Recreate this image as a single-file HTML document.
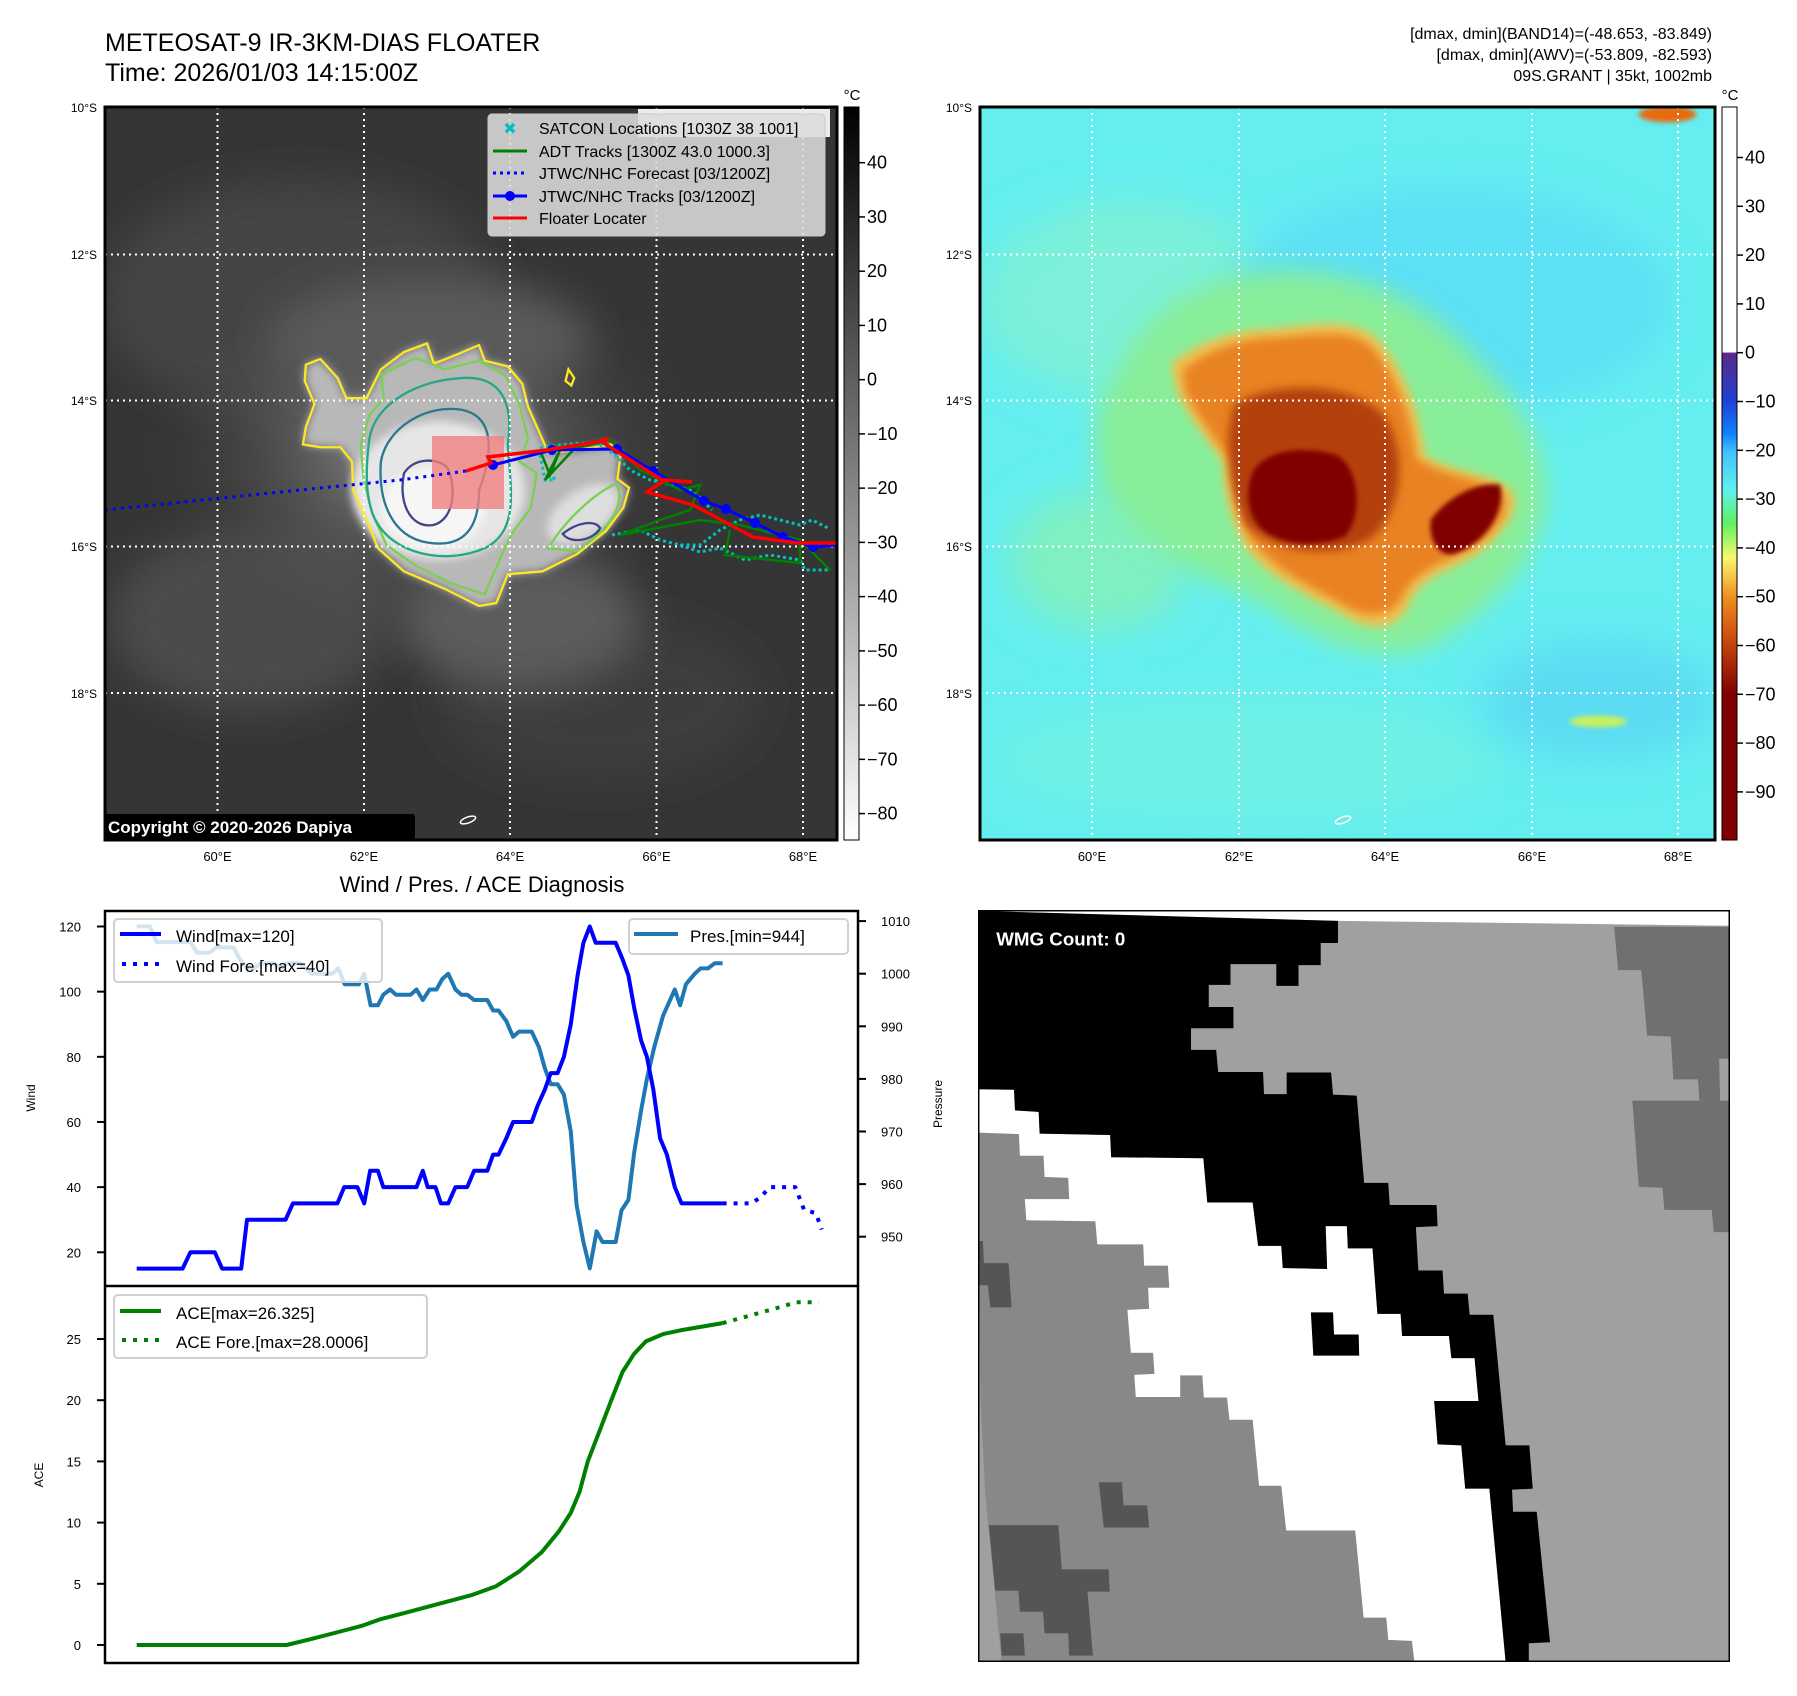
<!DOCTYPE html>
<html><head><meta charset="utf-8">
<style>
html,body{margin:0;padding:0;background:#fff;}
svg{display:block;font-family:"Liberation Sans","DejaVu Sans",sans-serif;}
</style></head>
<body>
<svg id="root" width="1797" height="1696" viewBox="0 0 1797 1696" xmlns="http://www.w3.org/2000/svg">
<defs>
  <clipPath id="clipL"><rect x="105" y="107" width="732" height="733"/></clipPath>
  <clipPath id="clipR"><rect x="980" y="107" width="735" height="733"/></clipPath>
  <filter id="blur8" x="-50%" y="-50%" width="200%" height="200%"><feGaussianBlur stdDeviation="8"/></filter>
  <filter id="blur20" x="-50%" y="-50%" width="200%" height="200%"><feGaussianBlur stdDeviation="20"/></filter>
  <filter id="blur4" x="-50%" y="-50%" width="200%" height="200%"><feGaussianBlur stdDeviation="4"/></filter>
  <radialGradient id="cloudHalo" cx="50%" cy="50%" r="50%">
    <stop offset="0" stop-color="#9a9a9a"/><stop offset="1" stop-color="#3a3a3a" stop-opacity="0"/>
  </radialGradient>
  <linearGradient id="cbGray" x1="0" y1="0" x2="0" y2="1">
    <stop offset="0" stop-color="#000"/><stop offset="1" stop-color="#fff"/>
  </linearGradient>
  <linearGradient id="cbColor" x1="0" y1="0" x2="0" y2="1">
    <stop offset="0" stop-color="#fff"/><stop offset="0.334" stop-color="#fff"/>
    <stop offset="0.336" stop-color="#5a2a8a"/><stop offset="0.40" stop-color="#2040d0"/>
    <stop offset="0.445" stop-color="#1080ff"/><stop offset="0.47" stop-color="#40c0ff"/>
    <stop offset="0.522" stop-color="#60f0f0"/><stop offset="0.568" stop-color="#60f060"/>
    <stop offset="0.615" stop-color="#f8f870"/><stop offset="0.668" stop-color="#f09020"/>
    <stop offset="0.721" stop-color="#d05010"/><stop offset="0.80" stop-color="#800000"/>
    <stop offset="1" stop-color="#800000"/>
  </linearGradient>
</defs>

<!-- ===== Titles ===== -->
<text x="105" y="51" font-size="25" fill="#000">METEOSAT-9 IR-3KM-DIAS FLOATER</text>
<text x="105" y="81" font-size="25" fill="#000">Time: 2026/01/03 14:15:00Z</text>
<g font-size="16" text-anchor="end" fill="#000">
  <text x="1712" y="39">[dmax, dmin](BAND14)=(-48.653, -83.849)</text>
  <text x="1712" y="60">[dmax, dmin](AWV)=(-53.809, -82.593)</text>
  <text x="1712" y="81">09S.GRANT | 35kt, 1002mb</text>
</g>

<!-- ===== Left IR map ===== -->
<g>
  <g clip-path="url(#clipL)">
    <rect x="105" y="107" width="732" height="733" fill="#353535"/>
    <ellipse cx="300" cy="300" rx="200" ry="120" fill="#444" filter="url(#blur20)"/>
    <ellipse cx="250" cy="620" rx="140" ry="90" fill="#4c4c4c" filter="url(#blur20)"/>
    <ellipse cx="600" cy="700" rx="160" ry="80" fill="#3e3e3e" filter="url(#blur20)"/>
    <ellipse cx="420" cy="450" rx="280" ry="210" fill="url(#cloudHalo)"/>
    <ellipse cx="430" cy="340" rx="160" ry="60" fill="#5a5a5a" filter="url(#blur20)"/>
    <ellipse cx="520" cy="620" rx="120" ry="70" fill="#5c5c5c" filter="url(#blur20)"/>
    <g transform="scale(0.5771)">
      <path d="M530,632 L555,622 L585,655 L600,690 L635,690 L660,640 L700,610 L740,595 L752,630 L790,615 L830,598 L840,625 L880,635 L905,665 L915,705 L935,750 L950,785 L1000,780 L1060,770 L1075,790 L1070,830 L1090,845 L1080,880 L1050,920 L1000,960 L940,990 L880,995 L860,1045 L830,1050 L770,1020 L700,990 L655,950 L635,900 L612,850 L610,800 L590,775 L555,775 L525,770 L530,740 L545,700 L528,660 Z" fill="#b8b8b8" filter="url(#blur8)"/>
      <ellipse cx="760" cy="850" rx="150" ry="120" fill="#e6e6e6" filter="url(#blur8)"/>
      <ellipse cx="1010" cy="890" rx="70" ry="40" fill="#dedede" filter="url(#blur8)" transform="rotate(-35 1010 890)"/>
      <ellipse cx="750" cy="880" rx="90" ry="70" fill="#f6f6f6" filter="url(#blur8)"/>
      <g fill="none" stroke-width="4">
        <path d="M530,632 L555,622 L585,655 L600,690 L635,690 L660,640 L700,610 L740,595 L752,630 L790,615 L830,598 L840,625 L880,635 L905,665 L915,705 L935,750 L950,785 L1000,780 L1060,770 L1075,790 L1070,830 L1090,845 L1080,880 L1050,920 L1000,960 L940,990 L880,995 L860,1045 L830,1050 L770,1020 L700,990 L655,950 L635,900 L612,850 L610,800 L590,775 L555,775 L525,770 L530,740 L545,700 L528,660 Z" stroke="#fde725"/>
        <path d="M985,640 L995,655 L990,668 L980,660 Z" stroke="#fde725"/>
        <path d="M660,650 L720,620 L770,640 L830,625 L875,650 L900,700 L915,760 L900,800 L930,820 L920,880 L890,920 L870,960 L840,1030 L780,1010 L720,980 L670,945 L645,890 L630,830 L625,770 L640,720 L665,690 Z" stroke="#7ad151"/>
        <path d="M950,950 C980,900 1030,855 1068,838 C1085,870 1060,915 1000,955 Z" stroke="#7ad151"/>
        <path d="M640,760 C650,700 720,660 800,655 C870,650 890,700 880,770 C885,850 900,920 840,950 C770,980 680,960 650,900 C630,860 635,800 640,760Z" stroke="#22a884"/>
        <path d="M660,800 C670,740 740,700 800,710 C850,720 860,770 830,850 C830,920 800,950 740,940 C680,930 655,870 660,800Z" stroke="#2a788e"/>
        <path d="M700,820 C720,790 760,795 775,810 C790,840 790,900 750,910 C710,915 690,870 700,820Z" stroke="#414487"/>
        <path d="M975,925 C1000,905 1030,900 1040,915 C1030,935 990,945 975,925Z" stroke="#414487"/>
      </g>
    </g>
    <g stroke="#fff" stroke-width="2" stroke-dasharray="2,4">
      <line x1="217.5" y1="107" x2="217.5" y2="840"/><line x1="364" y1="107" x2="364" y2="840"/>
      <line x1="510" y1="107" x2="510" y2="840"/><line x1="656.5" y1="107" x2="656.5" y2="840"/>
      <line x1="803" y1="107" x2="803" y2="840"/>
      <line x1="105" y1="254.5" x2="837" y2="254.5"/><line x1="105" y1="400.5" x2="837" y2="400.5"/>
      <line x1="105" y1="546.5" x2="837" y2="546.5"/><line x1="105" y1="693" x2="837" y2="693"/>
    </g>
    <rect x="432" y="436" width="72" height="73" fill="#f08080" opacity="0.8"/>
    <polyline points="105,510 300,490 400,480 466,471" fill="none" stroke="#0000ff" stroke-width="3" stroke-dasharray="3,5"/>
    <g fill="none" stroke="#00c0c0" stroke-width="3" stroke-dasharray="3,3">
      <polyline points="540,448 560,445 580,443 600,445 615,455 630,470 650,480 672,485 690,490 700,498 712,510"/>
      <polyline points="612,535 640,530 660,540 680,545 700,545 720,530 740,520 760,515 780,520 800,525 812,520 828,528"/>
      <polyline points="680,545 700,552 720,548 745,560 770,555 800,560 805,570 830,570"/>
      <polyline points="540,455 545,480 555,480 550,470"/>
    </g>
    <g fill="none" stroke="#008000" stroke-width="2.5">
      <polyline points="540,450 550,475 560,450 545,480 575,448 610,440 640,470 680,490 700,485 690,510 660,520 620,535 700,520 740,525 800,540 830,570"/>
      <polyline points="730,530 725,555 800,563 800,540"/>
    </g>
    <g>
      <polyline points="493,465 552,450 617,449 653,471 704,501 726,509 755,523 783,537 813,547 837,545" fill="none" stroke="#0000ff" stroke-width="3"/>
      <g fill="#0000ff"><circle cx="493" cy="465" r="5"/><circle cx="552" cy="450" r="5"/><circle cx="617" cy="449" r="5"/><circle cx="653" cy="471" r="5"/><circle cx="704" cy="501" r="5"/><circle cx="726" cy="509" r="5"/><circle cx="755" cy="523" r="5"/><circle cx="783" cy="537" r="5"/><circle cx="813" cy="547" r="5"/></g>
    </g>
    <polyline points="466,471 491,463 488,457 547,450 597,442 609,438 602,442 662,480 692,482 665,480 647,492 693,505 727,523 753,537 797,543 837,543" fill="none" stroke="#ff0000" stroke-width="3.5"/>
    <ellipse cx="468" cy="820" rx="8" ry="3" fill="none" stroke="#fff" stroke-width="1.5" transform="rotate(-20 468 820)"/>
    <rect x="638" y="109" width="192" height="28" fill="#fff" opacity="0.9"/>
    <text x="734" y="130" font-size="17" font-weight="bold" fill="#e0e0e0" text-anchor="middle">© EUMETSAT 2026</text>
  </g>
  <rect x="105" y="107" width="732" height="733" fill="none" stroke="#000" stroke-width="3"/>
  <g>
    <rect x="488" y="114" width="337" height="122" rx="4" fill="#dcdcdc" fill-opacity="0.88" stroke="#c8c8c8"/>
    <g font-size="16" fill="#000">
      <text x="539" y="134">SATCON Locations [1030Z 38 1001]</text>
      <text x="539" y="157">ADT Tracks [1300Z 43.0 1000.3]</text>
      <text x="539" y="179">JTWC/NHC Forecast [03/1200Z]</text>
      <text x="539" y="202">JTWC/NHC Tracks [03/1200Z]</text>
      <text x="539" y="224">Floater Locater</text>
    </g>
    <text x="510" y="134" font-size="16" font-weight="bold" fill="#00c0c0" text-anchor="middle">✖</text>
    <line x1="493" y1="151" x2="527" y2="151" stroke="#008000" stroke-width="3"/>
    <line x1="493" y1="173" x2="527" y2="173" stroke="#0000ff" stroke-width="3" stroke-dasharray="3,4"/>
    <line x1="493" y1="196" x2="527" y2="196" stroke="#0000ff" stroke-width="3"/><circle cx="510" cy="196" r="5" fill="#0000ff"/>
    <line x1="493" y1="218" x2="527" y2="218" stroke="#ff0000" stroke-width="3"/>
  </g>
  <rect x="104" y="814" width="311" height="26" rx="3" fill="#000"/>
  <text x="108" y="833" font-size="17" font-weight="bold" fill="#fff">Copyright © 2020-2026 Dapiya</text>
  <g font-size="12" text-anchor="end" fill="#000">
    <text x="97" y="112">10°S</text><text x="97" y="259">12°S</text><text x="97" y="405">14°S</text><text x="97" y="551">16°S</text><text x="97" y="698">18°S</text>
  </g>
  <g font-size="13" text-anchor="middle" fill="#000">
    <text x="217.5" y="861">60°E</text><text x="364" y="861">62°E</text><text x="510" y="861">64°E</text><text x="656.5" y="861">66°E</text><text x="803" y="861">68°E</text>
  </g>
  <g>
    <rect x="844" y="107" width="15" height="733" fill="url(#cbGray)" stroke="#000" stroke-width="1"/>
    <text x="852" y="100" font-size="15" text-anchor="middle">°C</text>
    <g font-size="18" fill="#000" id="cbLticks"></g>
  </g>
</g>

<!-- ===== Right colour map ===== -->
<g>
  <g clip-path="url(#clipR)">
    <rect x="980" y="107" width="735" height="733" fill="#64eef0"/>
    <ellipse cx="1130" cy="300" rx="150" ry="100" fill="#7cf0d8" filter="url(#blur20)"/>
    <ellipse cx="1450" cy="300" rx="220" ry="110" fill="#5ce0f4" filter="url(#blur20)"/>
    <ellipse cx="1250" cy="760" rx="250" ry="60" fill="#70f0e4" filter="url(#blur20)"/>
    <ellipse cx="1600" cy="700" rx="120" ry="60" fill="#5cdcf2" filter="url(#blur20)"/>
    <ellipse cx="1100" cy="560" rx="90" ry="70" fill="#80f0c0" filter="url(#blur20)"/>
    <g transform="translate(900,0) scale(0.5771)">
      <path d="M380,640 C430,520 560,460 700,470 C820,480 900,520 980,600 C1060,680 1120,760 1120,860 C1110,980 1020,1060 920,1120 C820,1160 700,1100 620,1040 C500,1000 350,900 340,800 C330,720 350,680 380,640Z" fill="#88ee9a" filter="url(#blur20)"/>
      <path d="M470,630 C520,590 580,570 650,570 C720,560 790,550 830,590 C880,650 900,720 910,790 C960,820 1030,820 1060,850 C1080,880 1040,930 1000,960 C950,990 900,1000 880,1050 C860,1100 800,1090 760,1060 C700,1030 640,1000 600,950 C570,900 560,840 560,800 C530,760 500,720 480,680 Z" fill="#f0c050" filter="url(#blur8)"/>
      <path d="M490,640 C540,605 590,585 660,585 C730,578 790,570 820,605 C865,660 885,725 895,795 C950,830 1020,830 1045,858 C1060,885 1030,925 990,950 C940,975 890,990 870,1035 C850,1075 800,1070 765,1045 C705,1015 650,985 612,940 C585,895 575,835 575,800 C545,760 515,720 495,680 Z" fill="#e98222" filter="url(#blur8)"/>
      <path d="M580,700 C650,660 780,660 840,720 C880,790 870,880 820,930 C760,970 650,960 600,910 C570,850 560,760 580,700Z" fill="#b3400a" filter="url(#blur8)"/>
      <path d="M610,820 C630,780 700,770 760,790 C800,820 800,900 770,930 C720,950 650,945 620,910 C600,880 600,850 610,820 Z" fill="#800000" filter="url(#blur4)"/>
      <path d="M920,900 C950,860 1000,835 1040,840 C1050,880 1020,940 960,960 C930,965 915,930 920,900Z" fill="#800000" filter="url(#blur4)"/>
      <ellipse cx="1330" cy="198" rx="50" ry="14" fill="#e86a10" filter="url(#blur4)"/>
      <ellipse cx="1210" cy="1250" rx="50" ry="10" fill="#c8f060" filter="url(#blur4)"/>
    </g>
    <g stroke="#fff" stroke-width="2" stroke-dasharray="2,4">
      <line x1="1092" y1="107" x2="1092" y2="840"/><line x1="1239" y1="107" x2="1239" y2="840"/>
      <line x1="1385" y1="107" x2="1385" y2="840"/><line x1="1532" y1="107" x2="1532" y2="840"/>
      <line x1="1678" y1="107" x2="1678" y2="840"/>
      <line x1="980" y1="254.5" x2="1715" y2="254.5"/><line x1="980" y1="400.5" x2="1715" y2="400.5"/>
      <line x1="980" y1="546.5" x2="1715" y2="546.5"/><line x1="980" y1="693" x2="1715" y2="693"/>
    </g>
    <ellipse cx="1343" cy="820" rx="8" ry="3" fill="none" stroke="#fff" stroke-width="1.5" transform="rotate(-20 1343 820)"/>
  </g>
  <rect x="980" y="107" width="735" height="733" fill="none" stroke="#000" stroke-width="3"/>
  <g font-size="12" text-anchor="end" fill="#000">
    <text x="972" y="112">10°S</text><text x="972" y="259">12°S</text><text x="972" y="405">14°S</text><text x="972" y="551">16°S</text><text x="972" y="698">18°S</text>
  </g>
  <g font-size="13" text-anchor="middle" fill="#000">
    <text x="1092" y="861">60°E</text><text x="1239" y="861">62°E</text><text x="1385" y="861">64°E</text><text x="1532" y="861">66°E</text><text x="1678" y="861">68°E</text>
  </g>
  <g>
    <rect x="1722" y="107" width="15" height="733" fill="url(#cbColor)" stroke="#000" stroke-width="1"/>
    <text x="1730" y="100" font-size="15" text-anchor="middle">°C</text>
    <g font-size="18" fill="#000" id="cbRticks"></g>
  </g>
</g>

<!-- ===== Diagnosis chart ===== -->
<text x="482" y="892" font-size="22" text-anchor="middle" fill="#000">Wind / Pres. / ACE Diagnosis</text>
<g id="diag">
  <rect x="105" y="911" width="753" height="752" fill="#fff" stroke="none"/>
  <g id="series"></g>
  <rect x="105" y="911" width="753" height="752" fill="none" stroke="#000" stroke-width="2.5"/>
  <line x1="105" y1="1286" x2="858" y2="1286" stroke="#000" stroke-width="2.5"/>
  <g id="axes" font-size="13" fill="#000"></g>
  <text transform="translate(35,1098) rotate(-90)" font-size="12" text-anchor="middle">Wind</text>
  <text transform="translate(942,1104) rotate(-90)" font-size="12" text-anchor="middle">Pressure</text>
  <text transform="translate(43,1475) rotate(-90)" font-size="12" text-anchor="middle">ACE</text>
  <g>
    <rect x="114" y="919" width="268" height="63" rx="4" fill="#fff" fill-opacity="0.8" stroke="#d0d0d0" stroke-width="2"/>
    <line x1="120" y1="934" x2="161" y2="934" stroke="#0000ff" stroke-width="4"/>
    <line x1="122" y1="964" x2="161" y2="964" stroke="#0000ff" stroke-width="4" stroke-dasharray="4,7"/>
    <text x="176" y="942" font-size="17">Wind[max=120]</text>
    <text x="176" y="972" font-size="17">Wind Fore.[max=40]</text>
  </g>
  <g>
    <rect x="629" y="919" width="219" height="35" rx="4" fill="#fff" fill-opacity="0.8" stroke="#d0d0d0" stroke-width="2"/>
    <line x1="634" y1="934" x2="678" y2="934" stroke="#1f77b4" stroke-width="4"/>
    <text x="690" y="942" font-size="17">Pres.[min=944]</text>
  </g>
  <g>
    <rect x="114" y="1295" width="313" height="63" rx="4" fill="#fff" fill-opacity="0.8" stroke="#d0d0d0" stroke-width="2"/>
    <line x1="120" y1="1311" x2="161" y2="1311" stroke="#008000" stroke-width="4"/>
    <line x1="122" y1="1340" x2="161" y2="1340" stroke="#008000" stroke-width="4" stroke-dasharray="4,7"/>
    <text x="176" y="1319" font-size="17">ACE[max=26.325]</text>
    <text x="176" y="1348" font-size="17">ACE Fore.[max=28.0006]</text>
  </g>
</g>

<!-- ===== WMG panel ===== -->
<g>
  <svg x="978" y="910" width="752" height="752" viewBox="0 8 1525 1527" preserveAspectRatio="none">
    <rect x="0" y="0" width="1545" height="1545" fill="#fff"/>
    <polygon points="0,10 730,30 1525,40 1525,1535 0,1535" fill="#a0a0a0"/>
    <polygon points="1290,42 1525,42 1525,310 1503,310 1505,395 1463,395 1460,352 1410,352 1405,265 1357,263 1345,130 1298,130" fill="#707070"/>
    <polygon points="1327,395 1525,395 1523,662 1492,662 1488,617 1392,617 1388,572 1340,570" fill="#707070"/>
    <polygon points="0,460 83,463 85,507 133,507 135,550 183,552 185,595 95,595 98,638 238,640 242,687 335,687 337,730 385,730 388,775 345,775 347,818 303,820 310,907 355,907 358,950 317,952 320,997 410,997 410,953 455,953 458,998 505,998 510,1043 557,1043 570,1177 615,1177 625,1268 765,1268 782,1445 828,1445 832,1490 880,1492 885,1535 48,1535 15,1200 5,1000" fill="#888"/>
    <polygon points="0,372 73,373 75,415 123,418 125,462 268,465 270,510 457,512 465,602 557,602 568,690 615,690 618,735 708,737 705,650 748,650 750,695 800,695 810,828 857,828 860,873 955,873 960,918 1007,918 1015,1005 925,1005 932,1093 980,1095 988,1183 1037,1183 1070,1535 885,1535 880,1492 832,1490 828,1445 782,1445 765,1268 625,1268 615,1177 570,1177 557,1043 510,1043 505,998 458,998 455,953 410,953 410,997 320,997 317,952 358,950 355,907 310,907 303,820 347,818 345,775 388,775 385,730 337,730 335,687 242,687 238,640 98,638 95,595 185,595 183,552 135,550 133,507 85,507 83,463 0,460" fill="#fff"/>
    <polygon points="0,10 730,30 730,75 695,75 695,120 650,120 650,162 605,162 605,118 512,118 512,160 468,160 468,205 518,205 518,248 432,248 432,292 483,292 487,337 578,337 580,382 626,382 626,338 716,338 720,383 768,385 783,562 832,562 835,607 930,607 932,650 888,652 893,740 942,740 945,787 993,787 997,830 1045,830 1070,1095 1118,1095 1125,1183 1083,1185 1085,1230 1133,1230 1160,1495 1117,1497 1117,1535 1070,1535 1037,1183 988,1183 980,1095 932,1093 925,1005 1015,1005 1007,918 960,918 955,873 860,873 857,828 810,828 800,695 750,695 748,650 705,650 708,737 618,735 615,690 568,690 557,602 465,602 457,512 270,510 268,465 125,462 123,418 75,415 73,373 0,372" fill="#000"/>
    <polygon points="675,825 720,825 722,870 772,870 773,913 680,913" fill="#000"/>
    <polygon points="0,680 10,680 12,725 62,725 68,815 25,815 20,770 0,770" fill="#555"/>
    <polygon points="245,1170 292,1170 295,1217 343,1217 347,1262 255,1262" fill="#555"/>
    <polygon points="22,1257 163,1257 170,1347 265,1347 267,1392 222,1392 233,1522 185,1522 183,1477 135,1477 132,1433 85,1433 82,1390 35,1390" fill="#555"/>
    <polygon points="45,1477 92,1477 95,1522 48,1522" fill="#555"/>
    <rect x="0" y="8" width="1525" height="1527" fill="none" stroke="#000" stroke-width="6"/>
    <text x="37" y="80" font-size="38" font-weight="bold" fill="#fff">WMG Count: 0</text>
  </svg>
</g>

<script>
// ---- Diagnosis chart data (time in hours) ----
const windHours = [0,9.4,11,16,17.5,21.4,22.6,30.5,32,41.1,42.5,45.2,46.6,47.8,49.4,50.5,57.3,58.6,59.6,61.2,62.3,63.8,65.3,67.7,69.1,71.8,73,74.1,75.7,77.1,80.9,82.1,83.6,84.8,86.2,87.5,88.9,90.3,91.5,92.8,94,98.1,99.5,100.7,101.9,103.3,104.5,105.8,107.2,108.6,110.2,111.6,120];
const windValues = [15,15,20,20,15,15,30,30,35,35,40,40,35,45,45,40,40,45,40,40,35,35,40,40,45,45,50,50,55,60,60,65,70,75,75,80,90,105,115,120,115,115,110,105,95,85,80,70,55,50,40,35,35];
const windForeHours = [120,125.9,127.9,129.6,134.9,136.7,139.1,140.3];
const windForeValues = [35,35,37,40,40,33,32,27];
const presHours = [0,2.7,4.1,11,12.4,14.9,16.3,19.8,21,22.6,24,25.4,28.1,29.5,30.7,33.4,35.8,40.1,41.3,42.6,45.5,46.6,47.9,49.4,50.5,51.9,53.1,56.1,57.3,58.6,60,61.4,62.6,63.8,65.3,66.5,67.7,69.1,71.8,73,74.1,75.7,77.1,78.3,80.9,82.4,83.6,84.8,86.2,87.5,88.9,90.1,91.5,92.8,94.2,95.4,98.1,99.3,100.7,101.9,103.3,104.5,106,107.8,110.2,111.3,112.5,114.3,115.5,117,118.4,120];
const presValues = [1009,1009,1006,1006,1004,1004,1005,1005,1003,1001,1001,1002,1002,1001,1002,1002,1000,1000,1001,998,998,1000,994,994,996,997,996,996,997,995,997,997,999,1000,997,996,996,995,995,993,993,991,988,989,989,986,982,979,979,977,970,956,949,944,951,949,949,955,957,966,974,980,986,992,997,994,998,1000,1001,1001,1002,1002];
const aceHours = [0,30.7,35.8,41.7,46.4,49.9,54.7,59.4,64.1,68.8,73.6,78.3,83,86.5,88.9,90.7,92.4,94.8,97.2,99.5,101.9,104.3,107.8,111.3,120];
const aceValues = [0,0,0.5,1.1,1.6,2.1,2.6,3.1,3.6,4.1,4.8,6.0,7.6,9.3,10.8,12.5,15,17.5,20,22.3,23.8,24.8,25.4,25.7,26.3];
const aceForeHours = [120,125.5,132.6,134.9,139.7];
const aceForeValues = [26.3,26.9,27.7,28.0,28.0];
const windTicks = [20,40,60,80,100,120];
const presTicks = [950,960,970,980,990,1000,1010];
const aceTicks = [0,5,10,15,20,25];
const irCbTicks = [40,30,20,10,0,-10,-20,-30,-40,-50,-60,-70,-80];
const colorCbTicks = [40,30,20,10,0,-10,-20,-30,-40,-50,-60,-70,-80,-90];

const NS = 'http://www.w3.org/2000/svg';
const xScale = h => 136.7 + h * (722.6 - 136.7) / 120;
const yWind = v => 1252.3 - (v - 20) * 3.258;
const yPres = p => 1236.7 - (p - 950) * 5.26;
const yAce = a => 1645 - a * 12.24;
const yIrCb = v => 162.7 + (40 - v) * 5.424;
const yColorCb = v => 157.5 + (40 - v) * 4.88;

function mk(tag, attrs, parent) {
  const el = document.createElementNS(NS, tag);
  for (const k in attrs) el.setAttribute(k, attrs[k]);
  parent.appendChild(el);
  return el;
}
const series = document.getElementById('series');
const axes = document.getElementById('axes');

function line(xs, ys, ysc, color, dash, name) {
  const pts = xs.map((h, i) => xScale(h).toFixed(1) + ',' + ysc(ys[i]).toFixed(1)).join(' ');
  const el = mk('polyline', {points: pts, fill: 'none', stroke: color, 'stroke-width': 4, 'stroke-linejoin': 'round'}, series);
  if (dash) el.setAttribute('stroke-dasharray', dash);
  
  
}
line(presHours, presValues, yPres, '#1f77b4', null, 'pressure-line');
line(windHours, windValues, yWind, '#0000ff', null, 'wind-line');
line(windForeHours, windForeValues, yWind, '#0000ff', '4,7', 'wind-forecast-line');
line(aceHours, aceValues, yAce, '#008000', null, 'ace-line');
line(aceForeHours, aceForeValues, yAce, '#008000', '4,7', 'ace-forecast-line');

windTicks.forEach(v => {
  const y = yWind(v);
  mk('line', {x1: 97, y1: y, x2: 105, y2: y, stroke: '#000', 'stroke-width': 2}, axes);
  const t = mk('text', {x: 81, y: y + 5, 'text-anchor': 'end'}, axes);
  t.textContent = v;
  
  
});
presTicks.forEach(v => {
  const y = yPres(v);
  mk('line', {x1: 858, y1: y, x2: 866, y2: y, stroke: '#000', 'stroke-width': 2}, axes);
  const t = mk('text', {x: 881, y: y + 5}, axes);
  t.textContent = v;
  
  
});
aceTicks.forEach(v => {
  const y = yAce(v);
  mk('line', {x1: 97, y1: y, x2: 105, y2: y, stroke: '#000', 'stroke-width': 2}, axes);
  const t = mk('text', {x: 81, y: y + 5, 'text-anchor': 'end'}, axes);
  t.textContent = v;
  
  
});
const cbL = document.getElementById('cbLticks');
irCbTicks.forEach(v => {
  const y = yIrCb(v);
  mk('line', {x1: 859, y1: y, x2: 865, y2: y, stroke: '#000', 'stroke-width': 1.5}, cbL);
  const t = mk('text', {x: 867, y: y + 6}, cbL);
  t.textContent = v < 0 ? '\u2212' + (-v) : v;
  
  
});
const cbR = document.getElementById('cbRticks');
colorCbTicks.forEach(v => {
  const y = yColorCb(v);
  mk('line', {x1: 1737, y1: y, x2: 1743, y2: y, stroke: '#000', 'stroke-width': 1.5}, cbR);
  const t = mk('text', {x: 1745, y: y + 6}, cbR);
  t.textContent = v < 0 ? '\u2212' + (-v) : v;
  
  
});
</script>
</svg>
</body></html>
